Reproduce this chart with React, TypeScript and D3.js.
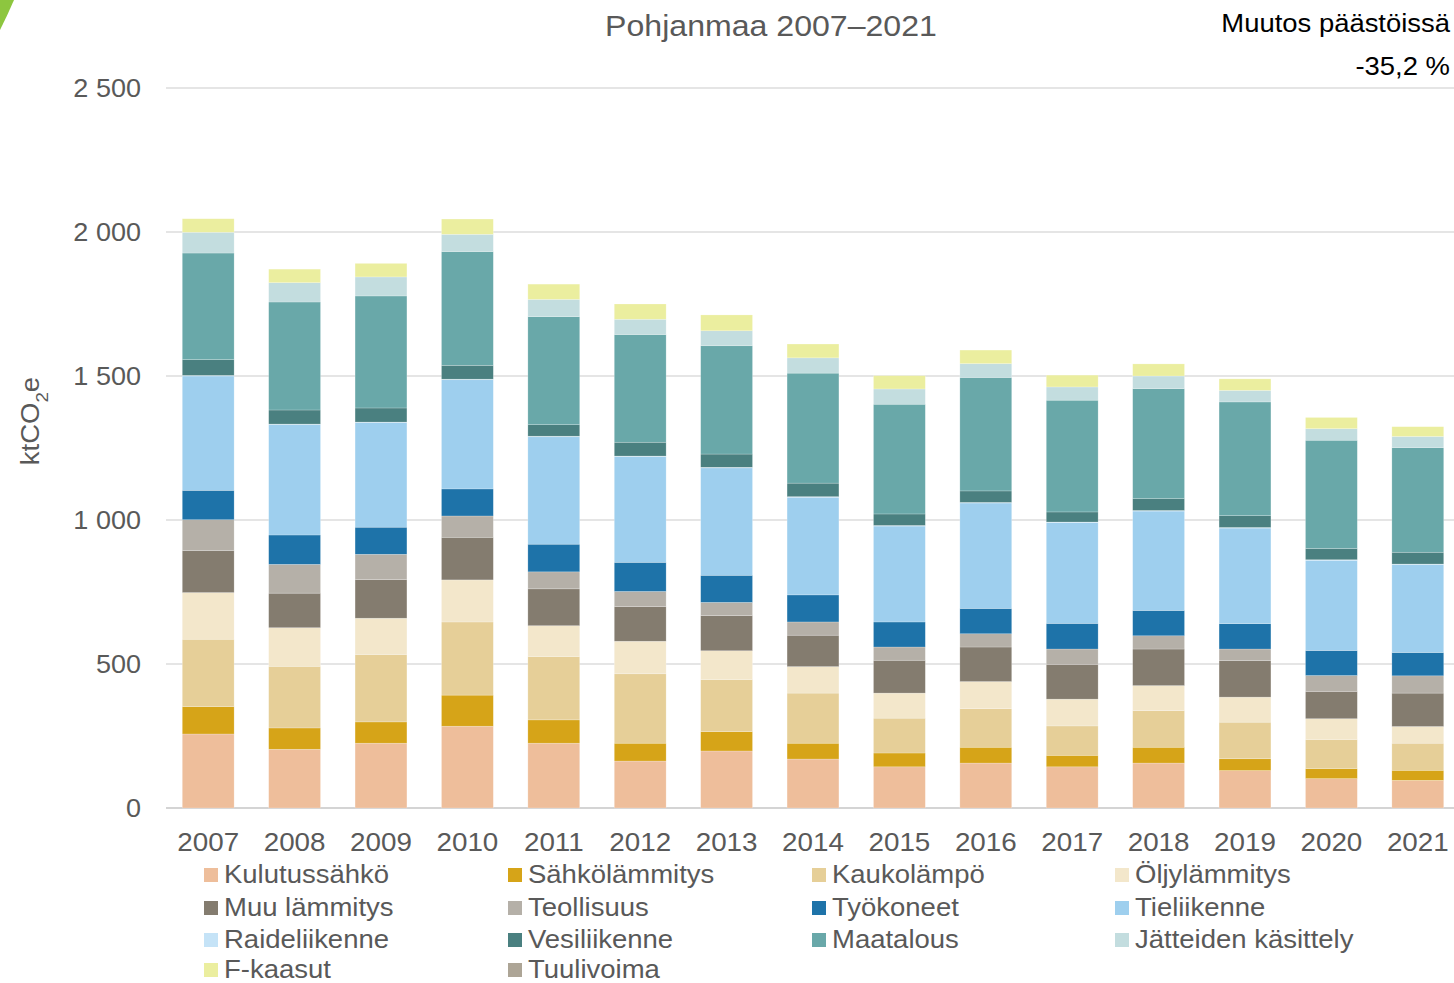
import React from "react";
import * as d3 from "d3";

const years = ["2007","2008","2009","2010","2011","2012","2013","2014","2015","2016","2017","2018","2019","2020","2021"];
const seriesNames = ["Kulutussähkö","Sähkölämmitys","Kaukolämpö","Öljylämmitys","Muu lämmitys","Teollisuus","Työkoneet","Tieliikenne","Raideliikenne","Vesiliikenne","Maatalous","Jätteiden käsittely","F-kaasut","Tuulivoima"];
const seriesColors = ["#EEBE9B","#D6A418","#E6CF98","#F3E7CB","#847C6F","#B5B0A8","#1E73A9","#9ECFEE","#C5E3F7","#4A8080","#69A8A9","#C3DDDF","#EBEE9F","#ADA596"];

const kulutussahko = [257,204,225,284,225,163,198,170,143,156,143,156,130,102,96];
const sahkolammitys = [95,74,74,108,81,62,67,55,48,55,40,55,41,35,35];
const kaukolampo = [234,214,234,254,220,241,181,174,121,134,102,127,127,101,94];
const oljylammitys = [162,134,126,146,107,113,100,92,87,94,93,87,87,72,58];
const muuLammitys = [146,120,134,148,128,120,122,109,114,120,121,127,127,95,116];
const teollisuus = [107,100,88,74,59,53,46,46,46,46,53,46,40,55,60];
const tyokoneet = [102,102,94,94,96,101,94,94,87,88,89,88,88,87,81];
const tieliikenne = [397,383,363,379,373,367,373,339,333,366,350,345,332,313,305];
const raideliikenne = [2,2,2,2,2,2,2,2,2,2,2,2,2,2,2];
const vesiliikenne = [55,49,49,48,40,48,46,47,40,40,35,41,41,39,41];
const maatalous = [370,375,389,395,375,374,376,382,381,394,388,382,395,376,363];
const jatteet = [72,67,66,60,60,53,52,53,53,48,46,44,40,40,39];
const fKaasut = [47,47,47,53,53,53,55,48,46,47,41,42,40,39,34];
const tuulivoima = [0,0,0,0,0,0,0,0,0,0,0,0,0,0,0];

const seriesValues = [kulutussahko,sahkolammitys,kaukolampo,oljylammitys,muuLammitys,teollisuus,tyokoneet,tieliikenne,raideliikenne,vesiliikenne,maatalous,jatteet,fKaasut,tuulivoima];

const yTicks = [0,500,1000,1500,2000,2500];
const titleText = "Pohjanmaa 2007–2021";
const changeLabel = "Muutos päästöissä";
const changeValue = "-35,2 %";

const W = 1454, H = 983;
const FONT = "'Liberation Sans', Arial, sans-serif";

function SText(props: { x: number; y: number; sx: number; size: number; anchor?: string; fill: string; children: any; dy?: string }) {
  const { x, y, sx, size, anchor = "start", fill, children, dy = "0.35em" } = props;
  return (
    <g transform={`translate(${x},${y}) scale(${sx},1)`}>
      <text x={0} y={0} dy={dy} textAnchor={anchor} fontSize={size} fill={fill}>{children}</text>
    </g>
  );
}

export default function App() {
  const x = d3.scaleBand<string>().domain(years).range([165, 1461]).paddingInner(0.4).paddingOuter(0.2);
  const y = d3.scaleLinear().domain([0, 2500]).range([808, 88]);

  const table = years.map((yr, i) => {
    const row: any = { year: yr };
    seriesNames.forEach((s, j) => { row[s] = seriesValues[j][i]; });
    return row;
  });
  const stack = d3.stack<any>().keys(seriesNames)(table);
  const fmt = (v: number) => d3.format(",")(v).replace(/,/g, " ");

  const legendCols = [204, 508, 812, 1115];
  const legendRows = [875, 908, 940, 970];

  return (
    <svg width={W} height={H} style={{ position: "absolute", left: 0, top: 0, background: "#fff" }} fontFamily={FONT}>
      <path d="M0,30 Q8,14 14,0 L0,0 Z" fill="#8DC63F" />
      {yTicks.map(t => (
        <g key={t}>
          <line x1={166} x2={W} y1={y(t)} y2={y(t)} stroke={t === 0 ? "#d4d4d4" : "#dcdcdc"} strokeWidth={t === 0 ? 2 : 1.5} />
          <SText x={141} y={y(t)} sx={1.04} size={26} anchor="end" fill="#595959">{fmt(t)}</SText>
        </g>
      ))}
      {stack.map((layer, j) => (
        <g key={seriesNames[j]} fill={seriesColors[j]}>
          {layer.map((d, i) => {
            const h = y(d[0]) - y(d[1]);
            if (h <= 0) return null;
            return <rect key={i} x={x(years[i])} width={x.bandwidth()} y={y(d[1])} height={h} stroke="#ffffff" strokeOpacity={0.35} strokeWidth={0.6} />;
          })}
        </g>
      ))}
      {years.map(yr => (
        <SText key={yr} x={(x(yr) as number) + x.bandwidth() / 2} y={842} sx={1.07} size={26} anchor="middle" fill="#595959">{yr}</SText>
      ))}
      <SText x={771} y={25} sx={1.07} size={30} anchor="middle" fill="#595959">{titleText}</SText>
      <SText x={1450} y={23} sx={1.055} size={26} anchor="end" fill="#000">{changeLabel}</SText>
      <SText x={1450} y={66} sx={1.055} size={26} anchor="end" fill="#000">{changeValue}</SText>
      <g transform="translate(30,421) rotate(-90) scale(1.1,1)">
        <text textAnchor="middle" dy="0.35em" fontSize={25} fill="#595959">
          ktCO<tspan baselineShift="sub" fontSize={17}>2</tspan>e
        </text>
      </g>
      {seriesNames.map((s, j) => {
        const cx = legendCols[j % 4];
        const cy = legendRows[Math.floor(j / 4)];
        return (
          <g key={s}>
            <rect x={cx} y={cy - 7} width={14} height={14} fill={seriesColors[j]} />
            <SText x={cx + 20} y={cy} sx={1.1} size={25} fill="#595959" dy="0.33em">{s}</SText>
          </g>
        );
      })}
    </svg>
  );
}
